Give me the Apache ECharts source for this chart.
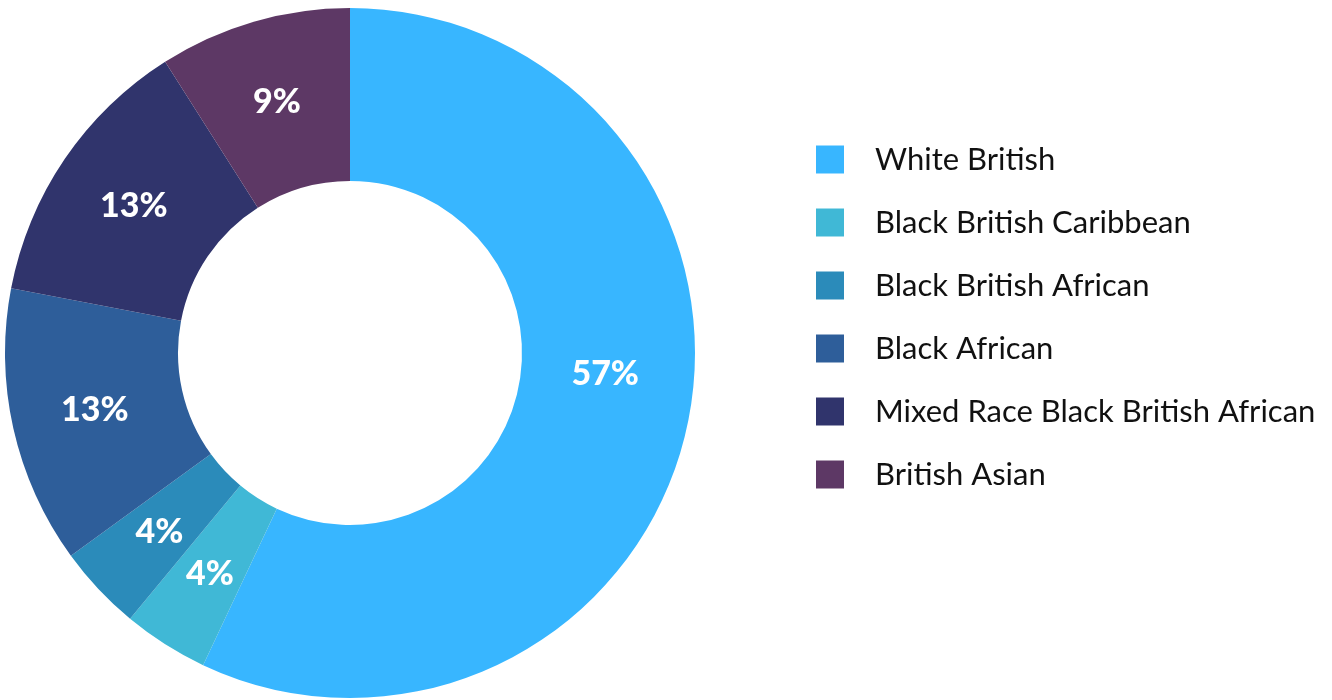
<!DOCTYPE html>
<html>
<head>
<meta charset="utf-8">
<script src="https://cdn.jsdelivr.net/npm/echarts@6/dist/echarts.min.js"></script>
<style>html,body{margin:0;padding:0;background:#fff;}#c{width:1332px;height:700px;}</style>
</head>
<body>
<div id="c"></div>
<script>
const categories = ["White British","Black British Caribbean","Black British African","Black African","Mixed Race Black British African","British Asian"];
const values = [57, 4, 4, 13, 13, 9];
const colors = ["#38B6FF","#40B8D6","#2B8BBA","#2E5E9A","#30346C","#5D3865"];

const chart = echarts.init(document.getElementById('c'), null, {renderer:'canvas'});
const data = categories.map((n,i)=>{
  const d = {name:n, value:values[i], itemStyle:{color:colors[i]}};
  if(i===0) d.label = {offset:[0,-36]};
  return d;
});
chart.setOption({
  animation:false,
  legend:{
    orient:'vertical', left:816, top:144, padding:0,
    itemWidth:28, itemHeight:28, itemGap:32,
    icon:'rect',
    textStyle:{fontFamily:'Lato', fontSize:31, lineHeight:28, color:'#111', padding:[0,0,0,26]},
    data:categories
  },
  series:[{
    type:'pie', center:[350,353], radius:[172,345], startAngle:90, clockwise:true,
    avoidLabelOverlap:false,
    label:{show:true, position:'inside', formatter:'{c}%', color:'#fff', fontFamily:'Lato', fontWeight:900, fontSize:34},
    labelLine:{show:false},
    emphasis:{disabled:true},
    data:data
  }]
});
</script>
</body>
</html>
